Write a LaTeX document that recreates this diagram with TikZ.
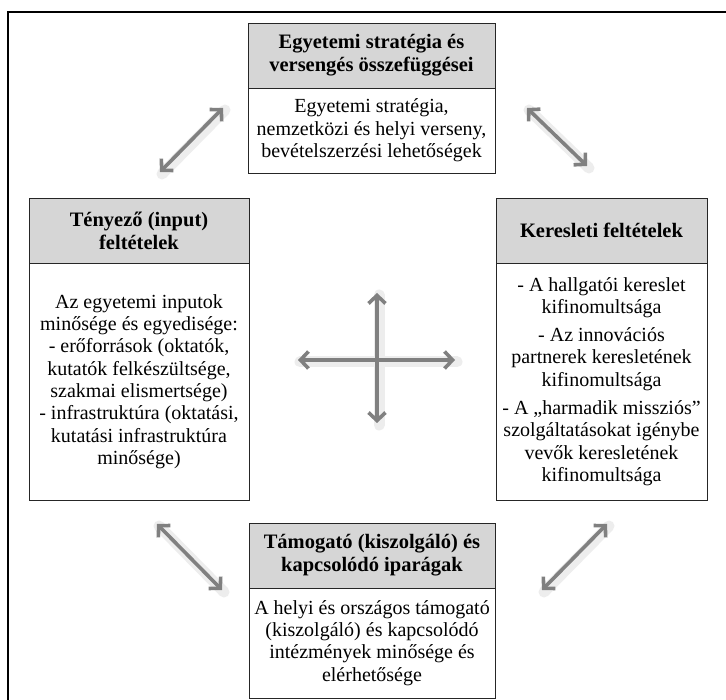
\documentclass[tikz,border=0pt]{standalone}
\usepackage{fontspec}
\setmainfont{Liberation Serif}
\usetikzlibrary{arrows.meta}
\begin{document}
\begin{tikzpicture}[x=1pt,y=-1pt,
  box/.style={draw=black!85, line width=0.9pt, inner sep=0pt, align=center, font=\fontsize{20}{22.3}\selectfont},
  hdr/.style={box, fill=black!16, font=\bfseries\fontsize{20.5}{23}\selectfont},
  bdy/.style={box, fill=white},
  biarrow/.style={draw=black!50, line width=3.6pt, line cap=round, line join=round,
    {Straight Barb[length=8pt,width=17pt]}-{Straight Barb[length=8pt,width=17pt]}},
  shadowline/.style={draw=black!7, line width=11pt, line cap=round}
]
\useasboundingbox (0,0) rectangle (726,700);
\fill[white] (0,0) rectangle (726,700);
% outer frame (partially visible)
\draw[line width=2.5pt] (8,700) -- (8,12) -- (726,12);

% top box
\node[hdr, minimum width=247pt, minimum height=65pt] (th) at (371.5,55.5) {Egyetemi stratégia és\\versengés összefüggései};
\node[bdy, minimum width=247pt, minimum height=85pt] (tb) at (371.5,130.5) {Egyetemi stratégia,\\nemzetközi és helyi verseny,\\bevételszerzési lehetőségek};

% left box
\node[hdr, minimum width=220pt, minimum height=65pt] (lh) at (139,230.5) {Tényező (input)\\feltételek};
\node[bdy, minimum width=220pt, minimum height=237pt] (lb) at (139,381.5) {Az egyetemi inputok\\minősége és egyedisége:\\- erőforrások (oktatók,\\kutatók felkészültsége,\\szakmai elismertsége)\\- infrastruktúra (oktatási,\\kutatási infrastruktúra\\minősége)};

% right box
\node[hdr, minimum width=211pt, minimum height=65pt] (rh) at (601.5,230.5) {Keresleti feltételek};
\node[bdy, minimum width=211pt, minimum height=237pt] (rb) at (601.5,381.5) {- A hallgatói kereslet\\kifinomultsága\\[6pt]- Az innovációs\\partnerek keresletének\\kifinomultsága\\[6pt]- A „harmadik missziós”\\szolgáltatásokat igénybe\\vevők keresletének\\kifinomultsága};

% bottom box
\node[hdr, minimum width=246pt, minimum height=65pt] (bh) at (372,555.5) {Támogató (kiszolgáló) és\\kapcsolódó iparágak};
\node[bdy, minimum width=246pt, minimum height=110pt] (bb) at (372,643) {A helyi és országos támogató\\(kiszolgáló) és kapcsolódó\\intézmények minősége és\\elérhetősége};

% arrow end points
\coordinate (tl1) at (160,172); \coordinate (tl2) at (223,108);
\coordinate (tr1) at (527,108); \coordinate (tr2) at (587,166);
\coordinate (bl1) at (157,524); \coordinate (bl2) at (222,590);
\coordinate (br1) at (542,590); \coordinate (br2) at (607,524);
\coordinate (cl) at (298,360); \coordinate (cr) at (455,360);
\coordinate (ct) at (377,293); \coordinate (cb) at (377,423);

% soft shadows
\foreach \a/\b in {tl1/tl2,tr1/tr2,bl1/bl2,br1/br2,cl/cr,ct/cb}
  \draw[shadowline] ([shift={(2,2)}]\a) -- ([shift={(2,2)}]\b);

% arrows
\draw[biarrow] (tl1) -- (tl2);
\draw[biarrow] (tr1) -- (tr2);
\draw[biarrow] (bl1) -- (bl2);
\draw[biarrow] (br1) -- (br2);
\draw[biarrow] (cl) -- (cr);
\draw[biarrow] (ct) -- (cb);
\end{tikzpicture}
\end{document}
